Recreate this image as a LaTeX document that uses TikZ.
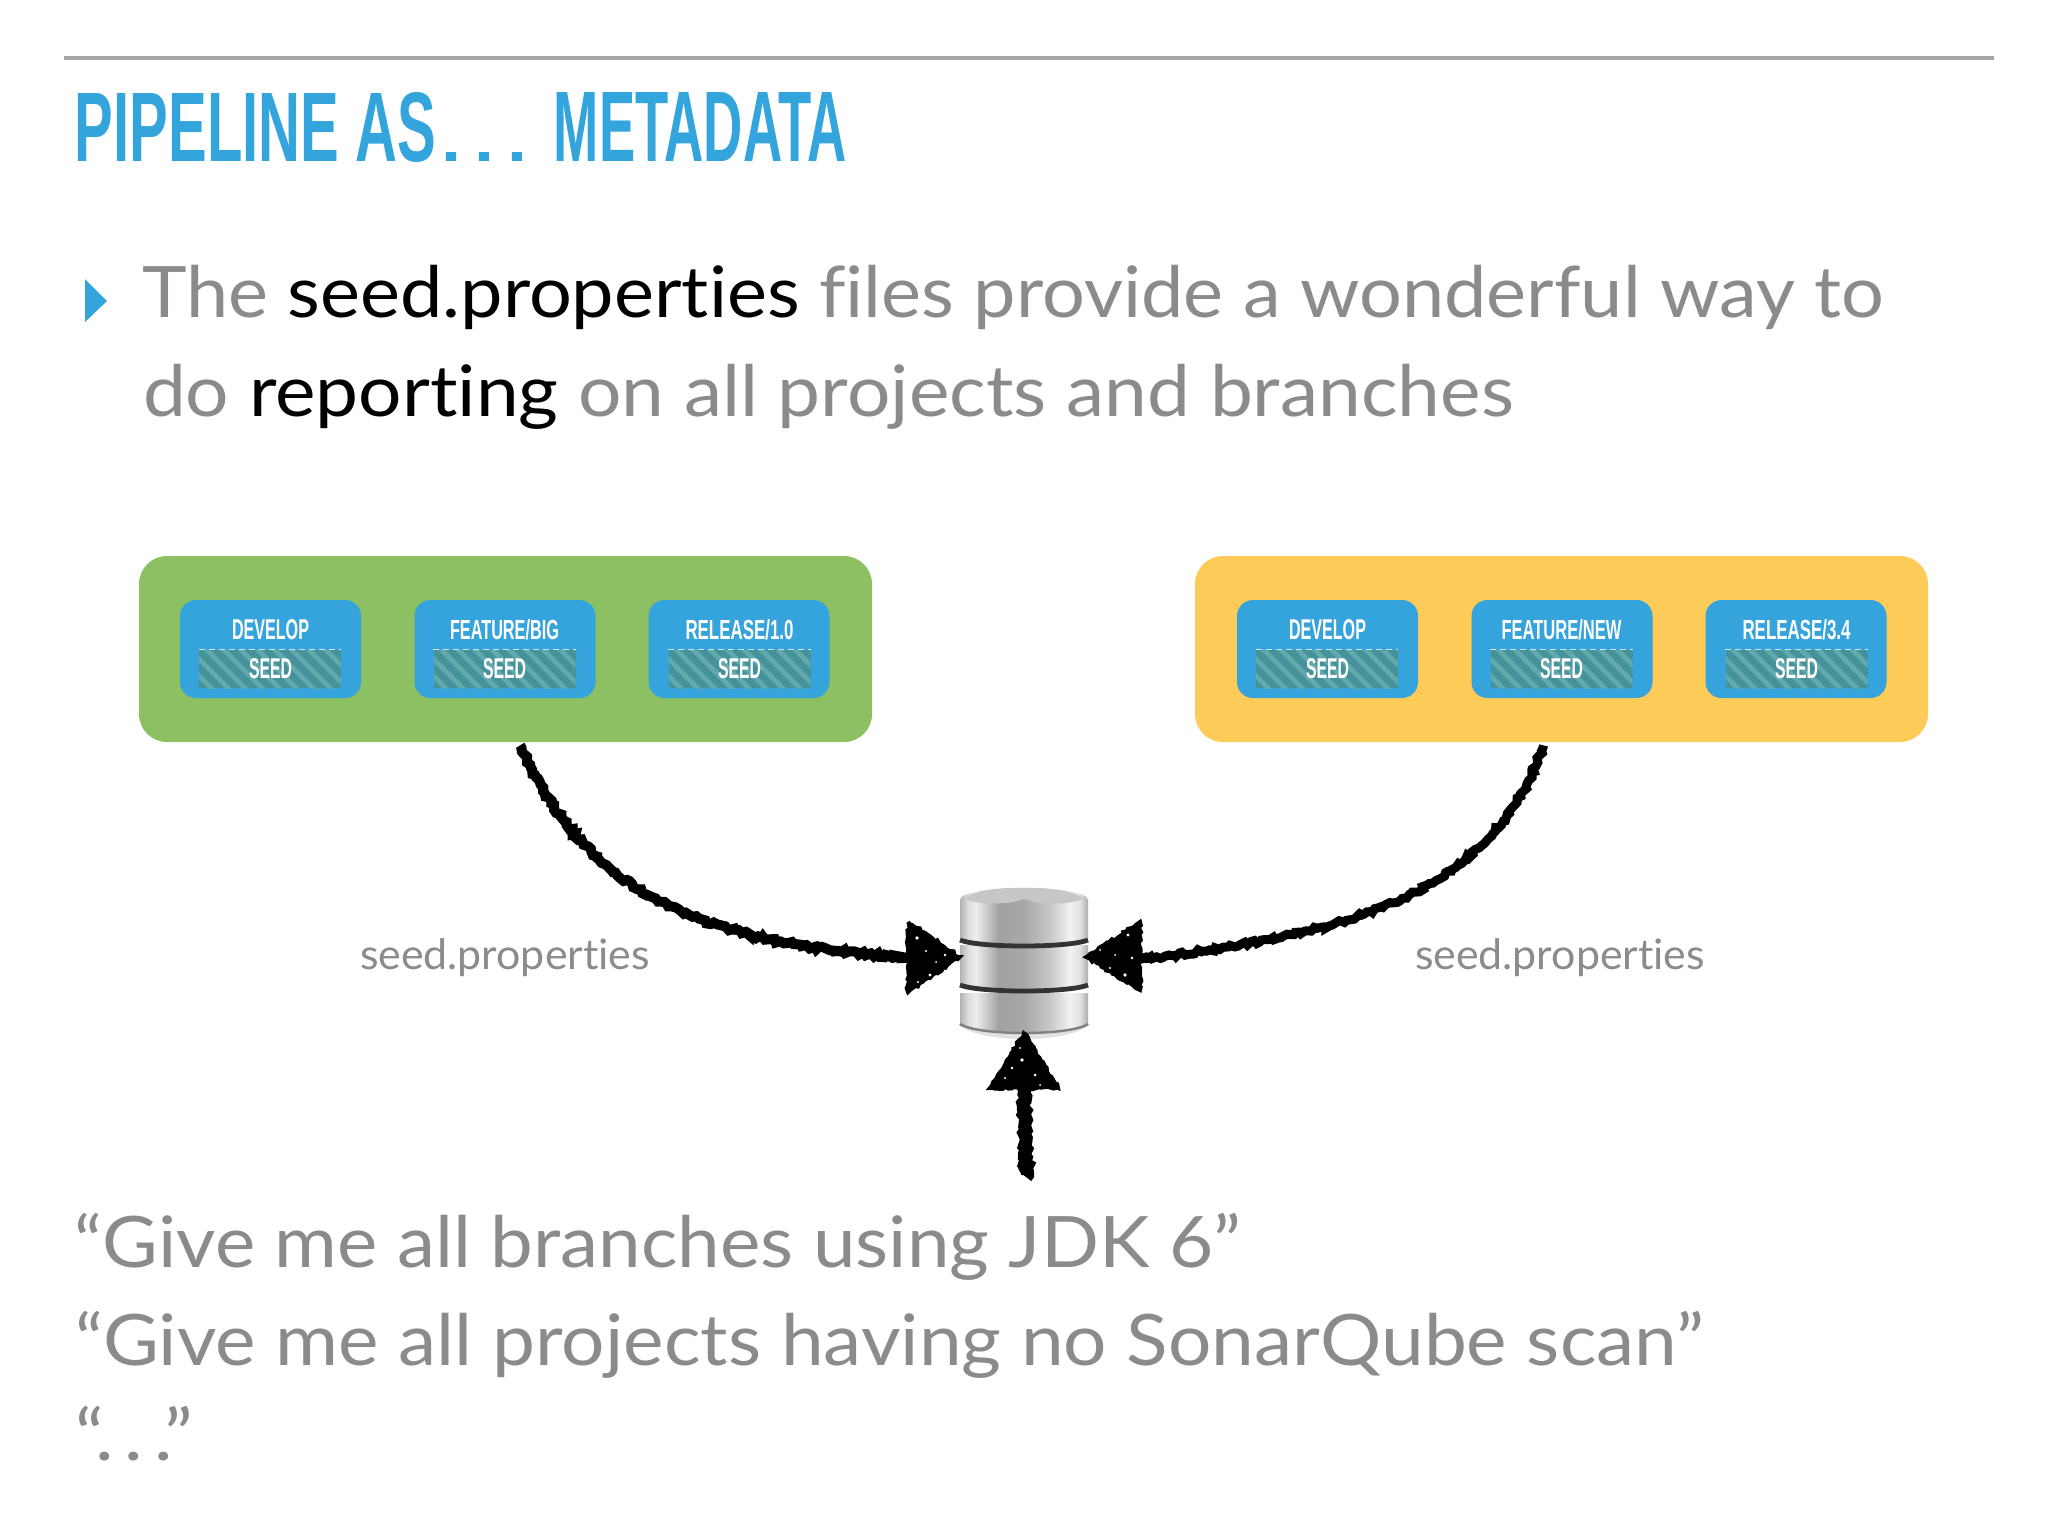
\documentclass[tikz,border=0pt]{standalone}
\usepackage{fontspec}
\usetikzlibrary{decorations.pathmorphing}
\setmainfont[Ligatures=NoCommon]{Lato}
\newfontfamily\dinface{Liberation Sans}
\definecolor{titleblue}{HTML}{34A5DC}
\definecolor{boxblue}{HTML}{35A3DC}
\definecolor{boxgreen}{HTML}{8CC062}
\definecolor{boxyellow}{HTML}{FDCB58}
\definecolor{bodygrey}{HTML}{8A8B8D}
\definecolor{rulegrey}{HTML}{A5A5A5}
\definecolor{hatchbase}{HTML}{45929B}
\definecolor{hatchline}{HTML}{62A9AE}
\pgfdeclarehorizontalshading{dbsteel}{100bp}{
  color(0bp)=(black!30); color(25bp)=(black!30); color(28bp)=(black!14);
  color(31bp)=(black!7); color(36bp)=(black!22); color(40bp)=(black!37);
  color(50bp)=(black!34); color(60bp)=(black!22); color(68bp)=(black!5);
  color(72bp)=(black!12); color(75bp)=(black!33); color(100bp)=(black!33)}
\newcommand{\dinfit}[3]{\resizebox{#1pt}{#2pt}{\dinface\bfseries #3}}
\newcommand{\fitw}[2]{\resizebox{#1pt}{\height}{#2}}
\tikzset{
  x=0.5pt,y=-0.5pt,
  txt/.style={inner sep=0pt,outer sep=0pt,anchor=base west},
  bodytxt/.style={txt,text=bodygrey,font=\fontsize{35.5}{42}\selectfont},
  group/.style={rounded corners=14pt,minimum width=366.5pt,minimum height=93pt,inner sep=0pt},
  branch/.style={fill=boxblue,rounded corners=8pt,minimum width=90.5pt,minimum height=49pt,inner sep=0pt},
  seedbox/.style={minimum width=71pt,minimum height=19pt,inner sep=0pt,fill=hatchbase,
    path picture={
      \foreach \k in {-6,...,12}{
        \draw[hatchline,line width=2.4pt]
          ([xshift=\k*8.5pt,yshift=4pt]path picture bounding box.north west)
          -- ++(27pt,-27pt);
      }}},
  seedtop/.style={white,opacity=0.75,line width=0.5pt,dash pattern=on 3pt off 2pt},
  branchlabel/.style={inner sep=0pt,outer sep=0pt,text=white},
  propslabel/.style={txt,text=bodygrey,font=\fontsize{21}{25}\selectfont},
  chalk/.style={black,line width=5pt,decorate,decoration={random steps,segment length=1.5pt,amplitude=0.9pt}},
  chalkhead/.style={fill=black,draw=black,line width=2pt,decorate,decoration={random steps,segment length=1.5pt,amplitude=0.7pt}},
  dbband/.style={shading=dbsteel},
  dbgap/.style={draw=black!80,line width=2.4pt},
}
\newcommand{\specks}[1]{\foreach \sx/\sy/\sr in {#1}{\fill[white] (\sx,\sy) circle[radius=\sr];}}
\begin{document}
\begin{tikzpicture}
\pgfmathsetseed{7}
\fill[white] (0,0) rectangle (2048,1536);
\useasboundingbox (0,0) rectangle (2048,1536);
\draw[rulegrey,line width=2pt] (64,58) -- (1994,58);
\node[txt,text=titleblue] (title) at (75,162) {\dinfit{180.5}{34.5}{PIPELINE AS}\hspace{2.5pt}\dinfit{10}{4.5}{.}\hspace{6.7pt}\dinfit{10}{4.5}{.}\hspace{6.7pt}\dinfit{10}{4.5}{.}\hspace{13pt}\dinfit{146.5}{34.5}{METADATA}};
\fill[titleblue] (85,279) -- (107,301) -- (85,322) -- cycle;
\node[bodytxt] (l1) at (142,317) {\fitw{871}{The \textcolor{black}{seed.properties} files provide a wonderful way to}};
\node[bodytxt] (l2) at (143,416) {\fitw{685.5}{do \textcolor{black}{reporting} on all projects and branches}};
% left group
\node[group,fill=boxgreen] (green) at (505.5,649) {};
\node[branch] (g1) at (270.5,649) {};
\node[branch] (g2) at (505,649) {};
\node[branch] (g3) at (739,649) {};
\node[seedbox] (gs1) at (270,669) {};
\node[seedbox] (gs2) at (504.5,669) {};
\node[seedbox] (gs3) at (739.5,669) {};
\draw[seedtop] (gs1.north west) -- (gs1.north east);
\draw[seedtop] (gs2.north west) -- (gs2.north east);
\draw[seedtop] (gs3.north west) -- (gs3.north east);
\node[branchlabel] (gl1) at (270.5,630) {\dinfit{38.5}{10}{DEVELOP}};
\node[branchlabel] (gl2) at (504.5,630) {\dinfit{54.5}{10}{FEATURE/BIG}};
\node[branchlabel] (gl3) at (739.5,630) {\dinfit{54}{10}{RELEASE/1.0}};
\node[branchlabel] (gt1) at (270.5,669) {\dinfit{21.5}{10}{SEED}};
\node[branchlabel] (gt2) at (504.5,669) {\dinfit{21.5}{10}{SEED}};
\node[branchlabel] (gt3) at (739.5,669) {\dinfit{21.5}{10}{SEED}};
% right group
\node[group,fill=boxyellow] (yellow) at (1561.5,649) {};
\node[branch] (y1) at (1327.5,649) {};
\node[branch] (y2) at (1562,649) {};
\node[branch] (y3) at (1796,649) {};
\node[seedbox] (ys1) at (1327,669) {};
\node[seedbox] (ys2) at (1561.5,669) {};
\node[seedbox] (ys3) at (1796.5,669) {};
\draw[seedtop] (ys1.north west) -- (ys1.north east);
\draw[seedtop] (ys2.north west) -- (ys2.north east);
\draw[seedtop] (ys3.north west) -- (ys3.north east);
\node[branchlabel] (yl1) at (1327.5,630) {\dinfit{38.5}{10}{DEVELOP}};
\node[branchlabel] (yl2) at (1561.5,630) {\dinfit{60}{10}{FEATURE/NEW}};
\node[branchlabel] (yl3) at (1796.5,630) {\dinfit{54}{10}{RELEASE/3.4}};
\node[branchlabel] (yt1) at (1327.5,669) {\dinfit{21.5}{10}{SEED}};
\node[branchlabel] (yt2) at (1561.5,669) {\dinfit{21.5}{10}{SEED}};
\node[branchlabel] (yt3) at (1796.5,669) {\dinfit{21.5}{10}{SEED}};
% database
\node[minimum width=64pt,minimum height=75pt,inner sep=0pt] (db) at (1024,962) {};
\fill[black!12] (958,1024) .. controls (978,1044) and (1070,1044) .. (1090,1024) -- cycle;
\shade[dbband] (960,993) -- (1088,993) -- (1088,1024) .. controls (1070,1036) and (978,1036) .. (960,1024) -- cycle;
\draw[black!50,line width=1.2pt] (960,1024) .. controls (978,1036) and (1070,1036) .. (1088,1024);
\shade[dbband] (960,945) -- (1088,945) -- (1088,984) .. controls (1070,992) and (978,992) .. (960,984) -- cycle;
\draw[dbgap] (960,985) .. controls (980,993) and (1068,993) .. (1088,985);
\shade[dbband] (960,900) .. controls (960,884) and (1088,884) .. (1088,900) -- (1088,938) .. controls (1070,946) and (978,946) .. (960,938) -- cycle;
\draw[dbgap] (960,940) .. controls (980,948) and (1068,948) .. (1088,940);
\fill[black!22] (965,899) .. controls (975,884) and (1073,884) .. (1083,899) .. controls (1070,905) and (1040,905) .. (1024,899) .. controls (1008,905) and (978,905) .. (965,899) -- cycle;
\node[propslabel] (pl) at (360,969) {\fitw{145}{seed.properties}};
\node[propslabel] (pr) at (1415,969) {\fitw{145}{seed.properties}};
% connectors
\draw[chalk] ([xshift=7.25pt,yshift=-1.5pt]green.south) .. controls (590,905) and (720,945) .. (915,958);
\fill[chalkhead] ([yshift=2.5pt]db.west) -- (908,922) -- (908,992) -- cycle;
\draw[chalk,line width=4.5pt] ([xshift=-9pt,yshift=-1.5pt]yellow.south) .. controls (1490,900) and (1340,935) .. (1135,960);
\fill[chalkhead] ([xshift=-1pt,yshift=2.5pt]db.east) -- (1140,922) -- (1140,990) -- cycle;
\coordinate (q) at (1026,1177);
\draw[chalk,line width=6.5pt] (q) -- (1024,1085);
\fill[chalkhead] ([yshift=2pt]db.south) -- (990,1088) -- (1058,1088) -- cycle;
\specks{917/938/1.8,926/951/1.2,930/975/1.6,918/982/1.2,936/962/1,945/955/1.4,
  1128/935/1.6,1115/955/1,1125/975/1.8,1110/968/1.2,1132/958/1.4,1100/950/1,
  1022/1060/1.8,1005/1078/1.2,1035/1075/1.5,1020/1048/1,1040/1085/1,1012/1068/1.3}
\node[bodytxt] (q1) at (75,1267) {\fitw{583}{“Give me all branches using JDK 6”}};
\node[bodytxt] (q2) at (75,1365) {\fitw{814.5}{“Give me all projects having no SonarQube scan”}};
\node[bodytxt] (q3) at (75,1460) {\fitw{59}{“.\hspace{0.14em}.\hspace{0.14em}.”}};
\end{tikzpicture}
\end{document}
